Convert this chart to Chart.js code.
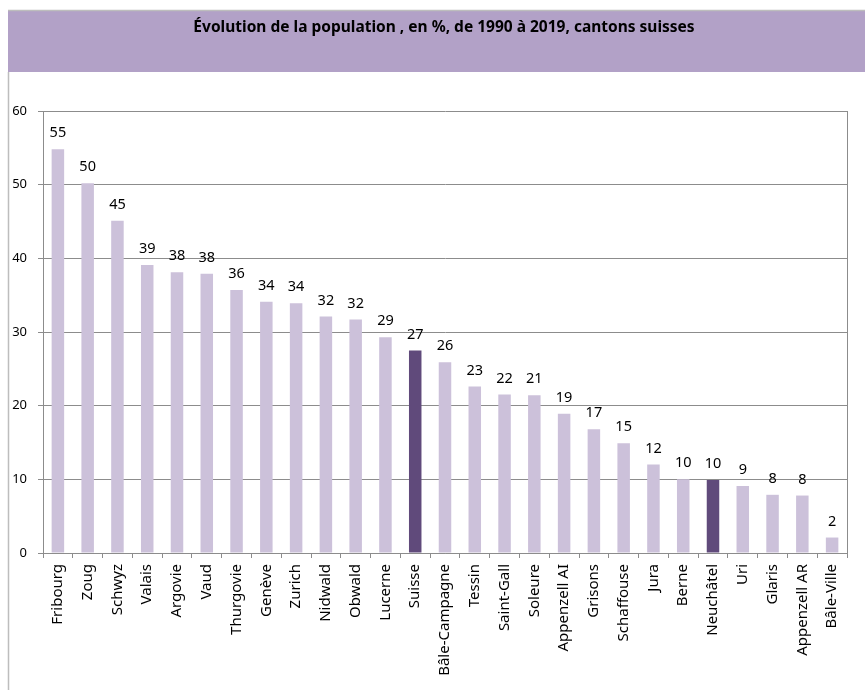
<!DOCTYPE html>
<html lang="fr">
<head>
<meta charset="utf-8">
<title>Évolution de la population, cantons suisses</title>
<script src="https://cdn.jsdelivr.net/npm/chart.js@4/dist/chart.umd.min.js"></script>
<style>
    html, body { margin: 0; padding: 0; background: #fff; }
    canvas { display: block; }
</style>
</head>
<body>
<canvas id="popChart" width="865" height="690"></canvas>
<script>
const chartTitle = 'Évolution de la population , en %, de 1990 à 2019, cantons suisses';

const categories = [
    'Fribourg', 'Zoug', 'Schwyz', 'Valais', 'Argovie', 'Vaud', 'Thurgovie',
    'Genève', 'Zurich', 'Nidwald', 'Obwald', 'Lucerne', 'Suisse',
    'Bâle-Campagne', 'Tessin', 'Saint-Gall', 'Soleure', 'Appenzell AI',
    'Grisons', 'Schaffouse', 'Jura', 'Berne', 'Neuchâtel', 'Uri', 'Glaris',
    'Appenzell AR', 'Bâle-Ville'
];

const values = [
    54.8, 50.2, 45.1, 39.1, 38.1, 37.9, 35.7,
    34.1, 33.9, 32.1, 31.7, 29.3, 27.5,
    25.9, 22.6, 21.5, 21.4, 18.9,
    16.8, 14.9, 12.0, 10.0, 9.9, 9.1, 7.9,
    7.8, 2.1
];

// labels as printed above the bars
const valueLabels = [
    '55', '50', '45', '39', '38', '38', '36',
    '34', '34', '32', '32', '29', '27',
    '26', '23', '22', '21', '19',
    '17', '15', '12', '10', '10', '9', '8',
    '8', '2'
];

const highlighted = ['Suisse', 'Neuchâtel'];

const yMin = 0;
const yMax = 60;
const yStep = 10;

const lightBar = '#ccc1da';
const darkBar = '#604a7b';
const bandColor = '#b2a1c7';
const lineGrey = '#8c8c8c';

const barColors = categories.map(c => highlighted.includes(c) ? darkBar : lightBar);

// Title band, outer frame and plot box
const framePlugin = {
    id: 'frame',
    beforeDraw(chart) {
        const { ctx, width, height } = chart;
        ctx.save();
        ctx.fillStyle = '#fff';
        ctx.fillRect(0, 0, width, height);

        ctx.fillStyle = bandColor;
        ctx.fillRect(8, 11, width - 8, 61);

        ctx.strokeStyle = '#bdbdbd';
        ctx.lineWidth = 1.5;
        ctx.beginPath();
        ctx.moveTo(8, 10.5);
        ctx.lineTo(width, 10.5);
        ctx.moveTo(8.5, 72);
        ctx.lineTo(8.5, height);
        ctx.stroke();

        ctx.fillStyle = '#000';
        ctx.font = 'bold 15.5px "Noto Sans", sans-serif';
        ctx.textAlign = 'center';
        ctx.textBaseline = 'middle';
        ctx.fillText(chartTitle, 444, 28);
        ctx.restore();
    },
    afterDraw(chart) {
        const { ctx, chartArea } = chart;
        ctx.save();
        ctx.strokeStyle = lineGrey;
        ctx.lineWidth = 1;
        ctx.beginPath();
        ctx.moveTo(Math.round(chartArea.right) + 0.5, chartArea.top);
        ctx.lineTo(Math.round(chartArea.right) + 0.5, chartArea.bottom);
        ctx.stroke();
        ctx.restore();
    }
};

const valueLabelPlugin = {
    id: 'valueLabels',
    afterDatasetsDraw(chart) {
        const { ctx } = chart;
        const meta = chart.getDatasetMeta(0);
        ctx.save();
        ctx.fillStyle = '#000';
        ctx.font = '14.5px "Noto Sans", sans-serif';
        ctx.textAlign = 'center';
        ctx.textBaseline = 'middle';
        meta.data.forEach((bar, i) => {
            ctx.fillText(valueLabels[i], bar.x, bar.y - 16);
        });
        ctx.restore();
    }
};

const ctx = document.getElementById('popChart').getContext('2d');

new Chart(ctx, {
    type: 'bar',
    data: {
        labels: categories,
        datasets: [{
            label: 'Évolution en %',
            data: values,
            backgroundColor: barColors,
            borderWidth: 0,
            barPercentage: 0.42,
            categoryPercentage: 1
        }]
    },
    options: {
        responsive: false,
        animation: false,
        layout: {
            padding: { top: 111, left: 8, right: 18, bottom: 0 }
        },
        plugins: {
            legend: { display: false },
            tooltip: { enabled: false },
            title: { display: false }
        },
        scales: {
            x: {
                offset: true,
                grid: {
                    offset: true,
                    drawOnChartArea: false,
                    drawTicks: true,
                    tickLength: 5,
                    color: lineGrey
                },
                border: { color: lineGrey },
                ticks: {
                    autoSkip: false,
                    minRotation: 90,
                    maxRotation: 90,
                    padding: 6,
                    color: '#000',
                    font: { family: '"Noto Sans", sans-serif', size: 15 }
                },
                afterFit(scale) { scale.height = 137; }
            },
            y: {
                min: yMin,
                max: yMax,
                grid: {
                    color: lineGrey,
                    tickLength: 5
                },
                border: { color: lineGrey },
                ticks: {
                    stepSize: yStep,
                    padding: 11,
                    color: '#000',
                    font: { family: '"Noto Sans", sans-serif', size: 13 }
                },
                afterFit(scale) { scale.width = 35; }
            }
        }
    },
    plugins: [framePlugin, valueLabelPlugin]
});
</script>
</body>
</html>
